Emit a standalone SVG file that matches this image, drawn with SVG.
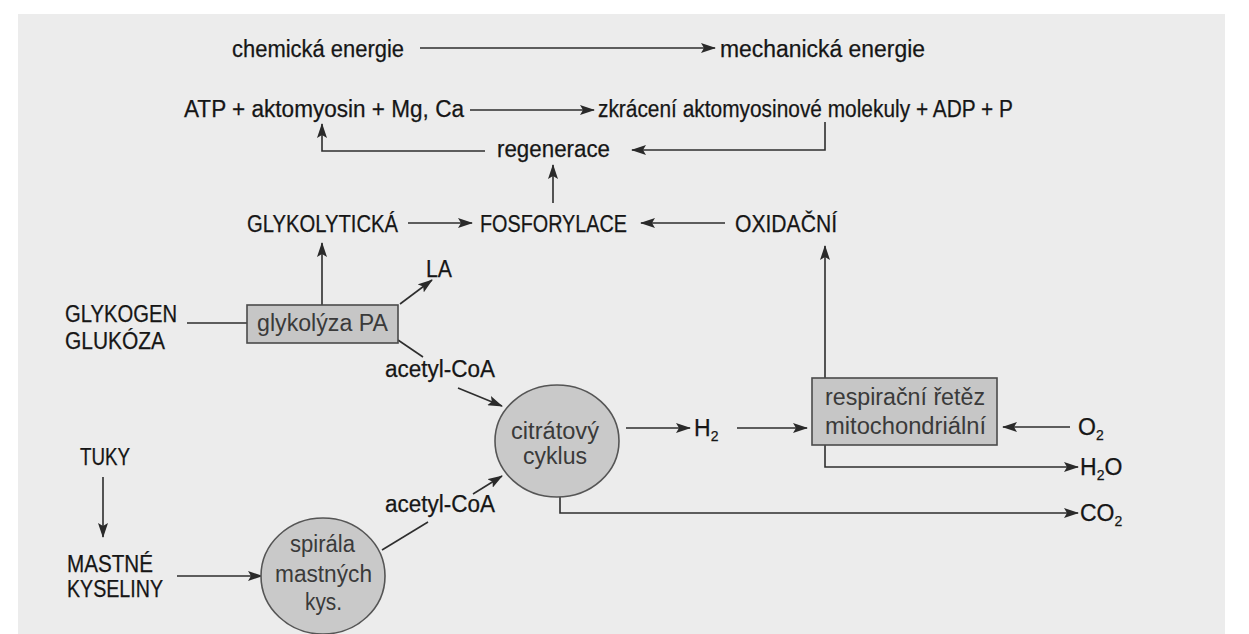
<svg xmlns="http://www.w3.org/2000/svg" width="1249" height="634" viewBox="0 0 1249 634">
<defs>
<marker id="ah" markerUnits="userSpaceOnUse" markerWidth="15" markerHeight="10" refX="14" refY="5" orient="auto">
<path d="M0,0 L15,5 L0,10 L3,5 Z" fill="#2a2a2a"/>
</marker>
<style>
.t{font-family:"Liberation Sans",Arial,sans-serif;font-size:23px;fill:#161616;stroke:#161616;stroke-width:0.25}
.g{font-family:"Liberation Sans",Arial,sans-serif;font-size:23px;fill:#3a3a3a}
.c{fill:none;stroke:#2e2e2e;stroke-width:1.6}
.a{fill:none;stroke:#2e2e2e;stroke-width:1.6;marker-end:url(#ah)}
.box{fill:#c6c6c6;stroke:#4a4a4a;stroke-width:1.6}
.circ{fill:#c9c9c9;stroke:#555;stroke-width:1.6}
</style>
</defs>
<rect x="0" y="0" width="1249" height="634" fill="#ffffff"/>
<rect x="18" y="14" width="1207" height="620" fill="#ececec"/>

<g id="connectors">
<line class="a" x1="420" y1="48" x2="715" y2="48"/>
<line class="a" x1="470" y1="110" x2="594" y2="110"/>
<polyline class="a" points="485,151 322,151 322,124"/>
<polyline class="a" points="825,122 825,150 632,150"/>
<line class="a" x1="553" y1="203" x2="553" y2="165"/>
<line class="a" x1="408" y1="223" x2="472" y2="223"/>
<line class="a" x1="725" y1="223" x2="641" y2="223"/>
<line class="a" x1="825" y1="378" x2="825" y2="246"/>
<line class="a" x1="322" y1="305" x2="322" y2="243"/>
<line class="a" x1="400" y1="304" x2="432" y2="280"/>
<line class="c" x1="187" y1="323" x2="247" y2="323"/>
<line class="c" x1="398" y1="340" x2="423" y2="357"/>
<line class="a" x1="458" y1="388" x2="502" y2="406"/>
<line class="a" x1="473" y1="494" x2="502" y2="476"/>
<line class="c" x1="382" y1="550" x2="428" y2="522"/>
<line class="a" x1="626" y1="428" x2="690" y2="428"/>
<line class="a" x1="737" y1="428" x2="807" y2="428"/>
<line class="a" x1="1070" y1="427" x2="1003" y2="427"/>
<polyline class="a" points="825,445 825,467 1078,467"/>
<polyline class="a" points="560,497 560,513 1078,513"/>
<line class="a" x1="103" y1="477" x2="103" y2="537"/>
<line class="a" x1="177" y1="576" x2="262" y2="576"/>
</g>

<g id="chemicka"><text class="t" x="232" y="57" textLength="172" lengthAdjust="spacingAndGlyphs">chemická energie</text></g>
<g id="mechanicka"><text class="t" x="720" y="57" textLength="205" lengthAdjust="spacingAndGlyphs">mechanická energie</text></g>
<g id="atp"><text class="t" x="184" y="117" textLength="280" lengthAdjust="spacingAndGlyphs">ATP + aktomyosin + Mg, Ca</text></g>
<g id="zkraceni"><text class="t" x="598" y="117" textLength="415" lengthAdjust="spacingAndGlyphs">zkrácení aktomyosinové molekuly + ADP + P</text></g>
<g id="regenerace"><text class="t" x="497" y="157" textLength="113" lengthAdjust="spacingAndGlyphs">regenerace</text></g>
<g id="glykolyticka"><text class="t" x="247" y="232" textLength="151" lengthAdjust="spacingAndGlyphs">GLYKOLYTICKÁ</text></g>
<g id="fosforylace"><text class="t" x="480" y="232" textLength="147" lengthAdjust="spacingAndGlyphs">FOSFORYLACE</text></g>
<g id="oxidacni"><text class="t" x="735" y="232" textLength="102" lengthAdjust="spacingAndGlyphs">OXIDAČNÍ</text></g>
<g id="la"><text class="t" x="426" y="277" textLength="26" lengthAdjust="spacingAndGlyphs">LA</text></g>
<g id="glykogen">
<text class="t" x="65" y="322" textLength="112" lengthAdjust="spacingAndGlyphs">GLYKOGEN</text>
<text class="t" x="65" y="349" textLength="100" lengthAdjust="spacingAndGlyphs">GLUKÓZA</text>
</g>
<g id="glykolyza">
<rect class="box" x="247" y="305" width="151" height="38"/>
<text class="g" x="257" y="331" textLength="131" lengthAdjust="spacingAndGlyphs">glykolýza  PA</text>
</g>
<g id="acetyl1"><text class="t" x="385" y="377" textLength="110" lengthAdjust="spacingAndGlyphs">acetyl-CoA</text></g>
<g id="acetyl2"><text class="t" x="385" y="512" textLength="110" lengthAdjust="spacingAndGlyphs">acetyl-CoA</text></g>
<g id="citratovy">
<ellipse class="circ" cx="557" cy="441" rx="62" ry="56"/>
<text class="g" x="511" y="439" textLength="88" lengthAdjust="spacingAndGlyphs">citrátový</text>
<text class="g" x="523" y="464" textLength="64" lengthAdjust="spacingAndGlyphs">cyklus</text>
</g>
<g id="h2"><text class="t" x="694" y="436">H<tspan font-size="14" dy="5">2</tspan></text></g>
<g id="respiracni">
<rect class="box" x="812" y="378" width="185" height="67"/>
<text class="g" x="825" y="405" textLength="160" lengthAdjust="spacingAndGlyphs">respirační řetěz</text>
<text class="g" x="825" y="434" textLength="161" lengthAdjust="spacingAndGlyphs">mitochondriální</text>
</g>
<g id="o2"><text class="t" x="1078" y="435">O<tspan font-size="14" dy="5">2</tspan></text></g>
<g id="h2o"><text class="t" x="1080" y="475">H<tspan font-size="14" dy="5">2</tspan><tspan dy="-5">O</tspan></text></g>
<g id="co2"><text class="t" x="1080" y="521">CO<tspan font-size="14" dy="5">2</tspan></text></g>
<g id="tuky"><text class="t" x="80" y="465" textLength="50" lengthAdjust="spacingAndGlyphs">TUKY</text></g>
<g id="mastne">
<text class="t" x="67" y="572" textLength="86" lengthAdjust="spacingAndGlyphs">MASTNÉ</text>
<text class="t" x="67" y="597" textLength="96" lengthAdjust="spacingAndGlyphs">KYSELINY</text>
</g>
<g id="spirala">
<ellipse class="circ" cx="323" cy="576" rx="62" ry="58"/>
<text class="g" x="290" y="552" textLength="65" lengthAdjust="spacingAndGlyphs">spirála</text>
<text class="g" x="275" y="582" textLength="97" lengthAdjust="spacingAndGlyphs">mastných</text>
<text class="g" x="305" y="610" textLength="37" lengthAdjust="spacingAndGlyphs">kys.</text>
</g>
</svg>
